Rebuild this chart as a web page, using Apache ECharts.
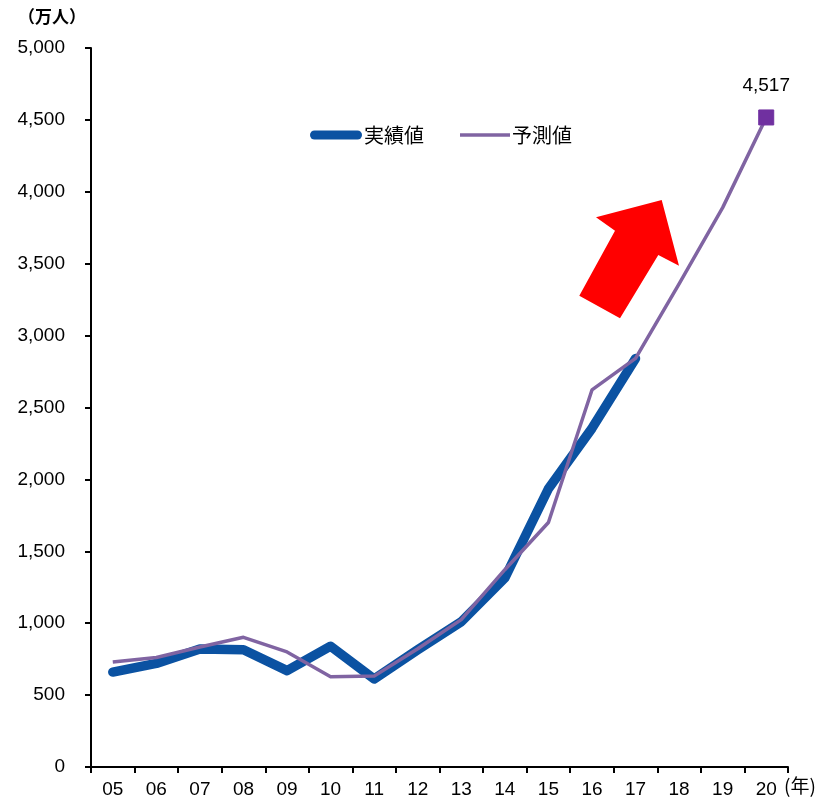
<!DOCTYPE html>
<html><head><meta charset="utf-8">
<script src="https://cdn.jsdelivr.net/npm/echarts@6/dist/echarts.min.js"></script>
<style>html,body{margin:0;padding:0;background:#fff}#c{width:829px;height:801px}</style>
</head><body><div id="c"></div>
<script>
const categories = ['05','06','07','08','09','10','11','12','13','14','15','16','17','18','19','20'];
const actual = [660, 720, 820, 815, 670, 840, 612, 815, 1010, 1315, 1935, 2355, 2840, null, null, null];
const forecast = [730, 762, 835, 902, 800, 628, 632, 822, 1025, 1372, 1700, 2622, 2842, 3360, 3890, 4517];
const yTicks = [0, 500, 1000, 1500, 2000, 2500, 3000, 3500, 4000, 4500, 5000];

function comma(v){ return String(v).replace(/\B(?=(\d{3})+(?!\d))/g, ','); }
const lastIdx = forecast.length - 1;
const forecastData = forecast.map((v,i)=> i===lastIdx ? {
  value: v, symbol: 'rect', symbolSize: 15,
  itemStyle: {color:'#7030a0', borderColor:'#7030a0'},
  label: {show:true, position:'top', distance: 14, formatter: p=>comma(p.value),
          fontFamily:'Liberation Sans, Arial', fontSize: 19, color:'#000'}
} : {value: v, symbol:'none'});

const legendText = {fontFamily:'Noto Sans CJK JP', fontSize:20, lineHeight:20, color:'#000', padding:[0,0,0,-3]};
const chart = echarts.init(document.getElementById('c'));
chart.setOption({
  animation:false,
  grid:{left:91, right:41, top:48, bottom:34},
  legend:[
    {data:['実績値'], left:310, top:125, padding:0, itemWidth:52, itemHeight:9,
     icon:'path://M4.5,0H47.5A4.5,4.5,0,0,1,47.5,9H4.5A4.5,4.5,0,0,1,4.5,0Z',
     itemStyle:{color:'#0b52a2'}, textStyle:legendText},
    {data:['予測値'], left:460, top:125, padding:0, itemWidth:50, itemHeight:3.5,
     icon:'rect', itemStyle:{color:'#8064a2'}, textStyle:legendText}
  ],
  xAxis:{type:'category', data:categories, boundaryGap:true,
    axisLine:{lineStyle:{color:'#000', width:2}},
    axisTick:{show:true, length:6, lineStyle:{color:'#000', width:2}},
    axisLabel:{color:'#000', fontFamily:'Liberation Sans, Arial', fontSize:19, margin:13}
  },
  yAxis:{type:'value', min:0, max:5000, interval:500,
    axisLine:{show:true, lineStyle:{color:'#000', width:2}},
    axisTick:{show:true, length:6, lineStyle:{color:'#000', width:2}},
    splitLine:{show:false},
    axisLabel:{color:'#000', fontFamily:'Liberation Sans, Arial', fontSize:19, margin:26,
      formatter: v => yTicks.includes(v) ? comma(v) : ''}
  },
  series:[
    {name:'実績値', type:'line', data:actual, symbol:'none', connectNulls:false,
     lineStyle:{color:'#0b52a2', width:9.5, cap:'round', join:'round'}, itemStyle:{color:'#0b52a2'}, z:2},
    {name:'予測値', type:'line', data:forecastData, symbol:'none', showAllSymbol:true,
     lineStyle:{color:'#8064a2', width:3.5, join:'round'}, itemStyle:{color:'#8064a2'}, z:3}
  ],
  graphic:[
    {type:'text', left:18, top:8, style:{text:'（万人）', font:'bold 17px "Noto Sans CJK JP"', fill:'#000'}},
    {type:'text', left:784, top:776, style:{text:'(年)', font:'19px "Noto Sans CJK JP"', fill:'#000'}},
    {type:'polygon', shape:{points:[[661.7,200],[679,265.7],[658.3,255],[620,318.3],[579.3,295.7],[615,230.7],[596,217.3]]},
     style:{fill:'#ff0000'}}
  ]
});
</script></body></html>
